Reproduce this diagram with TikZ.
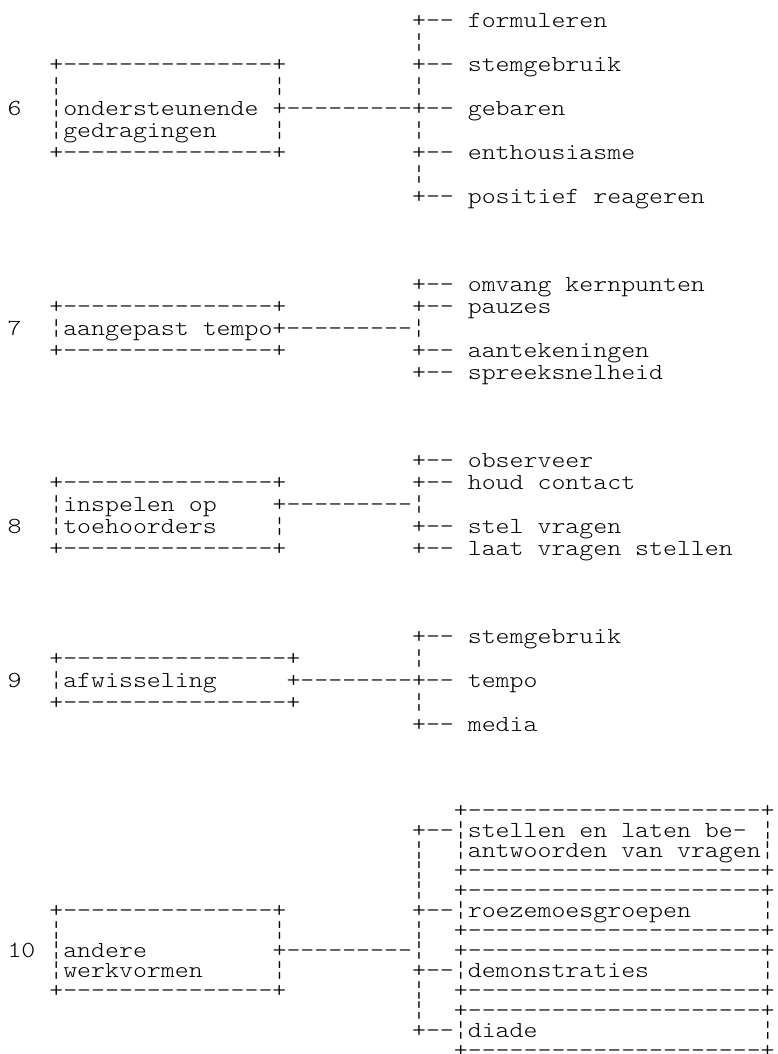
\documentclass[tikz,border=0pt]{standalone}
\usepackage{fontspec}
\newfontfamily\asctt{lmmonolt10-regular.otf}[FakeStretch=1.155]
\tikzset{
  asc/.style={anchor=base west, inner sep=0pt, outer sep=0pt,
    font=\asctt\fontsize{23}{23}\selectfont, text=black}
}
% character grid: 13.95pt per column; rows 22pt apart (items 6-9), 19.95pt apart (item 10)
\newcommand\gridA[4]{\node[asc] (#1) at ({7.5+(#3)*13.95},{-27.4-(#2)*22}) {#4};}
\newcommand\gridB[4]{\node[asc] (#1) at ({7.5+(#3)*13.95},{-817.6-(#2)*19.95}) {#4};}
\begin{document}
\begin{tikzpicture}[x=1pt,y=1pt]
\useasboundingbox (0,0) rectangle (777,-1054);
% ---- 6 ondersteunende gedragingen
\gridA{a0}{0}{29}{+-- formuleren}
\gridA{a1}{1}{29}{¦}
\gridA{a2l}{2}{3}{+---------------+}
\gridA{a2r}{2}{29}{+-- stemgebruik}
\gridA{a3a}{3}{3}{¦}
\gridA{a3b}{3}{19}{¦}
\gridA{a3c}{3}{29}{¦}
\gridA{n6}{4}{0}{6}
\gridA{a4l}{4}{3}{¦ondersteunende}
\gridA{a4r}{4}{19}{+---------+-- gebaren}
\gridA{a5l}{5}{3}{¦gedragingen}
\gridA{a5b}{5}{19}{¦}
\gridA{a5c}{5}{29}{¦}
\gridA{a6l}{6}{3}{+---------------+}
\gridA{a6r}{6}{29}{+-- enthousiasme}
\gridA{a7}{7}{29}{¦}
\gridA{a8}{8}{29}{+-- positief reageren}
% ---- 7 aangepast tempo
\gridA{b0}{12}{29}{+-- omvang kernpunten}
\gridA{b1l}{13}{3}{+---------------+}
\gridA{b1r}{13}{29}{+-- pauzes}
\gridA{n7}{14}{0}{7}
\gridA{b2}{14}{3}{¦aangepast tempo+---------¦}
\gridA{b3l}{15}{3}{+---------------+}
\gridA{b3r}{15}{29}{+-- aantekeningen}
\gridA{b4}{16}{29}{+-- spreeksnelheid}
% ---- 8 inspelen op toehoorders
\gridA{c0}{20}{29}{+-- observeer}
\gridA{c1l}{21}{3}{+---------------+}
\gridA{c1r}{21}{29}{+-- houd contact}
\gridA{c2l}{22}{3}{¦inspelen op}
\gridA{c2r}{22}{19}{+---------¦}
\gridA{n8}{23}{0}{8}
\gridA{c3l}{23}{3}{¦toehoorders}
\gridA{c3b}{23}{19}{¦}
\gridA{c3r}{23}{29}{+-- stel vragen}
\gridA{c4l}{24}{3}{+---------------+}
\gridA{c4r}{24}{29}{+-- laat vragen stellen}
% ---- 9 afwisseling
\gridA{d0}{28}{29}{+-- stemgebruik}
\gridA{d1l}{29}{3}{+----------------+}
\gridA{d1r}{29}{29}{¦}
\gridA{n9}{30}{0}{9}
\gridA{d2l}{30}{3}{¦afwisseling}
\gridA{d2r}{30}{20}{+--------+-- tempo}
\gridA{d3l}{31}{3}{+----------------+}
\gridA{d3r}{31}{29}{¦}
\gridA{d4}{32}{29}{+-- media}
% ---- 10 andere werkvormen
\gridB{e0}{0}{32}{+---------------------+}
\gridB{e1l}{1}{29}{+--¦stellen en laten be-}
\gridB{e1r}{1}{54}{¦}
\gridB{e2l}{2}{29}{¦}
\gridB{e2r}{2}{32}{¦antwoorden van vragen¦}
\gridB{e3l}{3}{29}{¦}
\gridB{e3r}{3}{32}{+---------------------+}
\gridB{e4l}{4}{29}{¦}
\gridB{e4r}{4}{32}{+---------------------+}
\gridB{e5a}{5}{3}{+---------------+}
\gridB{e5b}{5}{29}{+--¦roezemoesgroepen}
\gridB{e5c}{5}{54}{¦}
\gridB{e6a}{6}{3}{¦}
\gridB{e6b}{6}{19}{¦}
\gridB{e6c}{6}{29}{¦}
\gridB{e6d}{6}{32}{+---------------------+}
\gridB{n10}{7}{0}{10}
\gridB{e7a}{7}{3}{¦andere}
\gridB{e7b}{7}{19}{+---------¦}
\gridB{e7c}{7}{32}{+---------------------+}
\gridB{e8a}{8}{3}{¦werkvormen}
\gridB{e8b}{8}{19}{¦}
\gridB{e8c}{8}{29}{+--¦demonstraties}
\gridB{e8d}{8}{54}{¦}
\gridB{e9a}{9}{3}{+---------------+}
\gridB{e9b}{9}{29}{¦}
\gridB{e9c}{9}{32}{+---------------------+}
\gridB{e10a}{10}{29}{¦}
\gridB{e10b}{10}{32}{+---------------------+}
\gridB{e11a}{11}{29}{+--¦diade}
\gridB{e11b}{11}{54}{¦}
\gridB{e12}{12}{32}{+---------------------+}
\end{tikzpicture}
\end{document}
